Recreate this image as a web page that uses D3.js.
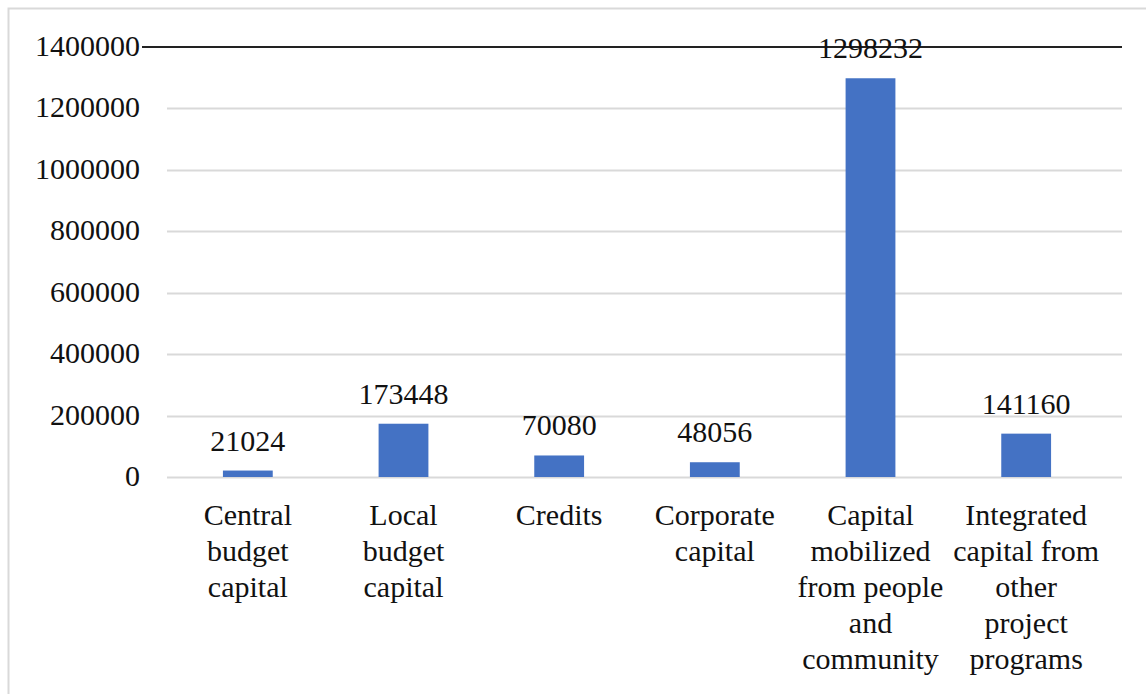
<!DOCTYPE html>
<html lang="en">
  <head>
    <meta charset="UTF-8" />
    <title>Capital sources</title>
    <script src="https://d3js.org/d3.v7.min.js"></script>
    <style>
      body { margin: 0; background: #fff; }
    </style>
  </head>
  <body></body>
  <script>
    var categories = [
      "Central budget capital",
      "Local budget capital",
      "Credits",
      "Corporate capital",
      "Capital mobilized from people and community",
      "Integrated capital from other project programs"
    ];
    // line breaks as shown under each bar
    var categoryLines = [
      ["Central", "budget", "capital"],
      ["Local", "budget", "capital"],
      ["Credits"],
      ["Corporate", "capital"],
      ["Capital", "mobilized", "from people", "and", "community"],
      ["Integrated", "capital from", "other", "project", "programs"]
    ];
    var values = [21024, 173448, 70080, 48056, 1298232, 141160];
    var yTicks = [0, 200000, 400000, 600000, 800000, 1000000, 1200000, 1400000];

    var W = 1146, H = 694;
    var fontSize = 30;
    var serif = "'Liberation Serif', 'DejaVu Serif', 'Times New Roman', serif";

    var svg = d3.select("body").append("svg")
      .attr("width", W)
      .attr("height", H)
      .attr("font-family", serif);

    // chart frame
    svg.append("rect")
      .attr("x", 8.5).attr("y", 8.5)
      .attr("width", W + 20).attr("height", H + 20)
      .attr("fill", "none")
      .attr("stroke", "#d9d9d9")
      .attr("stroke-width", 2);

    var x = d3.scaleBand()
      .domain(categories)
      .range([170, 1104])
      .paddingInner(0.68)
      .paddingOuter(0.34);

    var y = d3.scaleLinear()
      .domain([0, 1400000])
      .range([477, 47]);

    var gridLeft = 167, gridRight = 1122;

    // gridlines
    svg.append("g")
      .selectAll("line")
      .data(yTicks.filter(d => d < 1400000))
      .join("line")
      .attr("x1", gridLeft).attr("x2", gridRight)
      .attr("y1", d => Math.round(y(d)) + 0.5)
      .attr("y2", d => Math.round(y(d)) + 0.5)
      .attr("stroke", "#d9d9d9")
      .attr("stroke-width", 2);

    // dark top line
    svg.append("line")
      .attr("x1", 142).attr("x2", gridRight)
      .attr("y1", y(1400000)).attr("y2", y(1400000))
      .attr("stroke", "#222")
      .attr("stroke-width", 2);

    // y tick labels
    svg.append("g")
      .attr("text-anchor", "end")
      .attr("font-size", fontSize)
      .attr("fill", "#111")
      .selectAll("text")
      .data(yTicks)
      .join("text")
      .attr("x", 140)
      .attr("y", d => y(d))
      .attr("dy", "0.3em")
      .text(d => d3.format("d")(d));

    // bars
    svg.append("g")
      .selectAll("rect")
      .data(values)
      .join("rect")
      .attr("x", (d, i) => x(categories[i]))
      .attr("width", x.bandwidth())
      .attr("y", d => y(d))
      .attr("height", d => y(0) - y(d))
      .attr("fill", "#4472c4");

    // value labels
    svg.append("g")
      .attr("text-anchor", "middle")
      .attr("font-size", fontSize)
      .attr("fill", "#111")
      .selectAll("text")
      .data(values)
      .join("text")
      .attr("x", (d, i) => x(categories[i]) + x.bandwidth() / 2)
      .attr("y", d => y(d) - 20)
      .text(d => d);

    // category labels
    svg.append("g")
      .attr("text-anchor", "middle")
      .attr("font-size", fontSize)
      .attr("fill", "#111")
      .selectAll("text")
      .data(categories)
      .join("text")
      .each(function (d, i) {
        var t = d3.select(this);
        categoryLines[i].forEach((ln, j) => {
          t.append("tspan")
            .attr("x", x(d) + x.bandwidth() / 2)
            .attr("y", 525 + j * 36)
            .text(ln);
        });
      });
  </script>
</html>
